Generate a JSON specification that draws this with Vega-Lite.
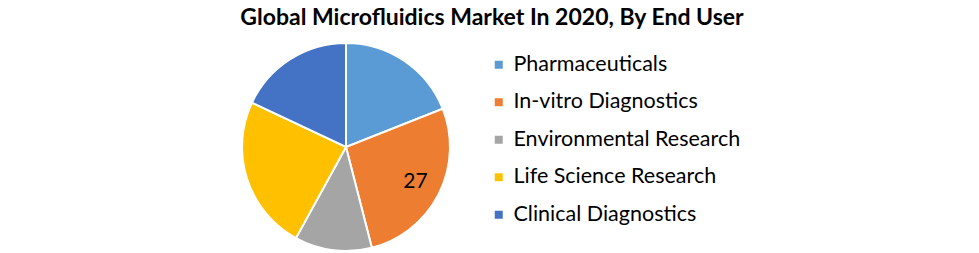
{
  "$schema": "https://vega.github.io/schema/vega-lite/v6.json",
  "autosize": "none",
  "width": 208,
  "height": 208,
  "padding": {"left": 242, "top": 43, "right": 529, "bottom": 2},
  "background": "white",
  "title": {
    "text": "Global Microfluidics Market In 2020, By End User",
    "font": "Lato",
    "fontWeight": "bold",
    "fontSize": 23,
    "color": "#000000",
    "anchor": "middle",
    "dx": 146,
    "offset": 9
  },
  "data": {
    "values": [
      {"segment": "Pharmaceuticals", "share": 19},
      {"segment": "In-vitro Diagnostics", "share": 27},
      {"segment": "Environmental Research", "share": 12},
      {"segment": "Life Science Research", "share": 24},
      {"segment": "Clinical Diagnostics", "share": 18}
    ]
  },
  "transform": [{"window": [{"op": "row_number", "as": "rank"}]}],
  "encoding": {
    "theta": {"field": "share", "type": "quantitative", "stack": true},
    "order": {"field": "rank", "type": "quantitative"}
  },
  "layer": [
    {
      "mark": {"type": "arc", "outerRadius": 104, "stroke": "white", "strokeWidth": 2},
      "encoding": {
        "color": {
          "field": "segment",
          "type": "nominal",
          "sort": null,
          "scale": {
            "domain": ["Pharmaceuticals", "In-vitro Diagnostics", "Environmental Research", "Life Science Research", "Clinical Diagnostics"],
            "range": ["#5B9BD5", "#ED7D31", "#A5A5A5", "#FFC000", "#4472C4"]
          },
          "legend": {
            "title": null,
            "orient": "none",
            "legendX": 246,
            "legendY": 11,
            "symbolType": "square",
            "symbolSize": 64,
            "symbolStrokeWidth": 0,
            "labelFont": "Lato",
            "labelFontSize": 21.5,
            "labelColor": "#000000",
            "labelOffset": 4,
            "rowPadding": 14.5,
            "labelLimit": 400
          }
        }
      }
    },
    {
      "mark": {"type": "text", "radius": 78, "font": "Lato", "fontSize": 21, "color": "#000000"},
      "encoding": {
        "text": {
          "condition": {"test": "datum.segment === 'In-vitro Diagnostics'", "field": "share", "type": "quantitative"},
          "value": ""
        }
      }
    }
  ]
}
